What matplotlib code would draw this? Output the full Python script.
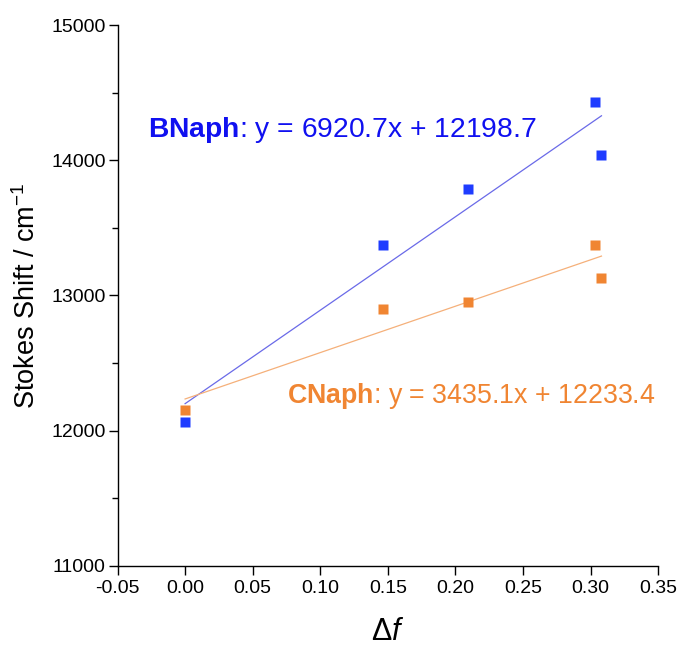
import numpy as np
import matplotlib
matplotlib.use("Agg")
import matplotlib.pyplot as plt

plt.rcParams['font.family'] = ['Liberation Sans', 'DejaVu Sans']
plt.rcParams['mathtext.fontset'] = 'custom'
plt.rcParams['mathtext.rm'] = 'Liberation Sans'
plt.rcParams['mathtext.it'] = 'Liberation Sans:italic'
plt.rcParams['mathtext.bf'] = 'Liberation Sans:bold'

# Data
delta_f = [0.0, 0.1466, 0.2093, 0.3035, 0.308]
bnaph = [12066, 13374, 13788, 14430, 14042]
cnaph = [12150, 12898, 12950, 13372, 13127]

# Linear fits (as printed on the chart)
b_slope, b_icpt = 6920.7, 12198.7
c_slope, c_icpt = 3435.1, 12233.4

blue = '#1f3cff'
orange = '#f08532'

fig = plt.figure(figsize=(6.8, 6.46), dpi=100)
ax = fig.add_axes([0.1728, 0.1245, 0.7952, 0.8363])

xfit = np.array([min(delta_f), max(delta_f)])
ax.plot(xfit, b_slope * xfit + b_icpt, color='#6a6ae8', lw=0.9)
ax.plot(xfit, c_slope * xfit + c_icpt, color='#f5b07a', lw=0.9)

ax.plot(delta_f, cnaph, 's', color=orange, ms=6.5, mec='none')
ax.plot(delta_f, bnaph, 's', color=blue, ms=6.5, mec='none')

ax.set_xlim(-0.05, 0.35)
ax.set_ylim(11000, 15000)
ax.set_xticks(np.arange(-0.05, 0.351, 0.05))
ax.set_xticklabels(['-0.05', '0.00', '0.05', '0.10', '0.15', '0.20', '0.25', '0.30', '0.35'])
ax.set_yticks([11000, 12000, 13000, 14000, 15000])
ax.set_yticks([11500, 12500, 13500, 14500], minor=True)

for s in ['top', 'right']:
    ax.spines[s].set_visible(False)
for s in ['left', 'bottom']:
    ax.spines[s].set_linewidth(1.0)

ax.tick_params(axis='both', which='major', direction='out', length=6.5, width=1.0,
               labelsize=14, colors='black')
ax.tick_params(axis='x', which='major', pad=4)
ax.tick_params(axis='y', which='major', pad=2)
ax.tick_params(axis='y', which='minor', direction='out', length=4, width=1.0)

ax.set_ylabel('Stokes Shift / cm$^{-1}$', fontsize=19.5, labelpad=7)
ax.set_xlabel(r'$\Delta\mathit{f}$', fontsize=22, labelpad=14)

ax.text(-0.0274, 14225, r'$\mathbf{BNaph}$: y = 6920.7x + 12198.7',
        color='#1010f0', fontsize=20.3, va='center', ha='left')
ax.text(0.0754, 12256, r'$\mathbf{CNaph}$: y = 3435.1x + 12233.4',
        color=orange, fontsize=19.3, va='center', ha='left')

fig.savefig('out.png', dpi=100)
